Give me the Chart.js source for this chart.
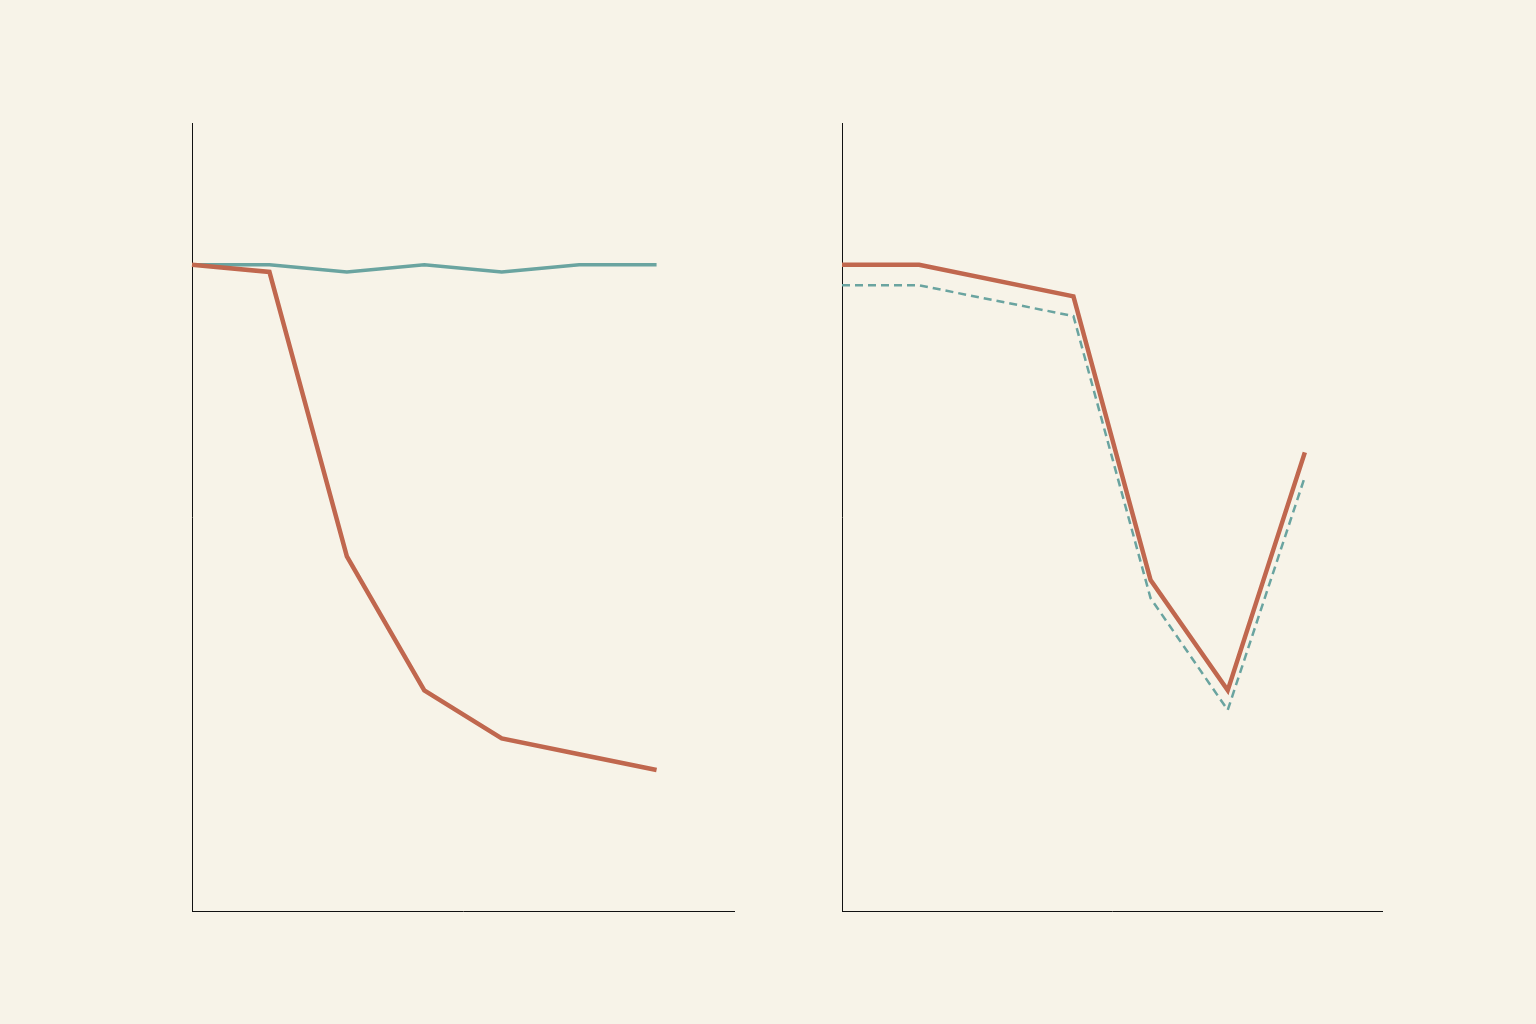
<!DOCTYPE html>
<html>
<head>
<meta charset="utf-8">
<script src="https://cdn.jsdelivr.net/npm/chart.js@4"></script>
<style>
    body { margin: 0; background: #f7f3e8; width: 1536px; height: 1024px; overflow: hidden; }
    .box { position: absolute; top: 103px; height: 828px; }
    #boxLeft { left: 172px; width: 582px; }
    #boxRight { left: 822px; width: 580px; }
</style>
</head>
<body>
<div class="box" id="boxLeft"><canvas id="left"></canvas></div>
<div class="box" id="boxRight"><canvas id="right"></canvas></div>
<script>
// eight slots on the x axis, the data fills the first seven
const steps = ['1', '2', '3', '4', '5', '6', '7', '8'];

// left panel
const leftRed = [82.0, 81.1, 45.0, 28.0, 21.9, 19.9, 17.9];
const leftTeal = [82.0, 82.0, 81.1, 82.0, 81.1, 82.0, 82.0];

// right panel (third step has no value, line spans it)
const rightRed = [82.0, 82.0, null, 78.0, 42.0, 28.0, 58.2];
const rightTeal = [79.4, 79.4, null, 75.5, 39.7, 25.5, 55.1];

const RED = 'rgb(192, 103, 78)';
const TEAL = 'rgb(106, 164, 160)';

function makeOptions() {
    const axis = {
        grid: {display: false, drawTicks: false, tickLength: 0},
        ticks: {display: false},
        border: {display: true, color: '#111111', width: 1}
    };
    return {
        responsive: true,
        maintainAspectRatio: false,
        animation: false,
        spanGaps: true,
        layout: {padding: 20},
        plugins: {legend: {display: false}, tooltip: {enabled: false}},
        elements: {point: {radius: 0}, line: {tension: 0}},
        scales: {
            x: Object.assign({type: 'category', offset: false}, axis),
            y: Object.assign({min: 0, max: 100}, axis)
        }
    };
}

new Chart(document.getElementById('left'), {
    type: 'line',
    data: {
        labels: steps,
        datasets: [
            {data: leftRed, borderColor: RED, borderWidth: 4.5},
            {data: leftTeal, borderColor: TEAL, borderWidth: 3.5}
        ]
    },
    options: makeOptions()
});

new Chart(document.getElementById('right'), {
    type: 'line',
    data: {
        labels: steps,
        datasets: [
            {data: rightRed, borderColor: RED, borderWidth: 4.5},
            {data: rightTeal, borderColor: TEAL, borderWidth: 2.5, borderDash: [8, 5]}
        ]
    },
    options: makeOptions()
});
</script>
</body>
</html>
